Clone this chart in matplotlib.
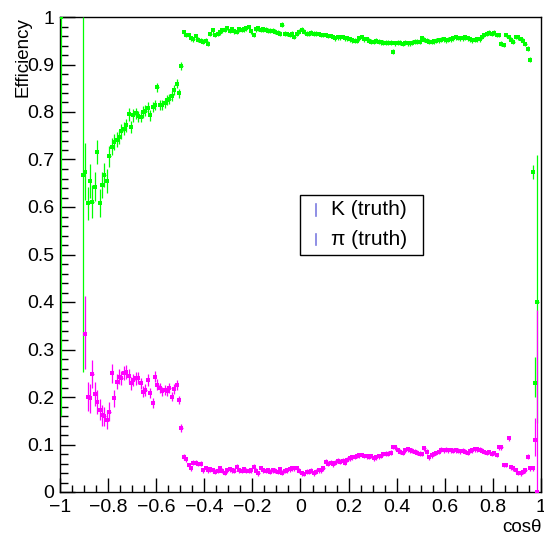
import numpy as np
import matplotlib
matplotlib.use("Agg")
import matplotlib.pyplot as plt
from matplotlib.patches import Rectangle

plt.rcParams['font.family'] = ['Liberation Sans', 'DejaVu Sans']

bin_half = 0.005

# K efficiency, rising part: bin centres from -0.895 in steps of 0.01
k_rise_start = -0.895
k_rise = [0.674, 0.608, 0.655, 0.611, 0.643, 0.716, 0.608, 0.646, 0.667, 0.655,
          0.707, 0.727, 0.737, 0.742, 0.748, 0.759, 0.765, 0.772, 0.795, 0.768,
          0.793, 0.797, 0.791, 0.790, 0.800, 0.803, 0.809, 0.793, 0.811, 0.815,
          0.852, 0.815, 0.815, 0.818, 0.825, 0.827, 0.834, 0.846, 0.860, 0.839,
          0.897]
k_rise_err = [0.060, 0.035, 0.035, 0.035, 0.030, 0.026, 0.030, 0.028, 0.025, 0.025,
              0.022, 0.018, 0.017, 0.016, 0.015, 0.015, 0.014, 0.014, 0.013, 0.013,
              0.013, 0.012, 0.012, 0.012, 0.012, 0.011, 0.011, 0.011, 0.011, 0.011,
              0.010, 0.010, 0.010, 0.010, 0.010, 0.010, 0.010, 0.010, 0.010, 0.010,
              0.008]
# K efficiency plateau: bin centres from -0.485 to 0.955
k_flat_start = -0.485
k_flat = [0.968, 0.962, 0.962, 0.955, 0.953, 0.960, 0.952, 0.950, 0.948, 0.950,
          0.944, 0.964, 0.972, 0.962, 0.965, 0.968, 0.972, 0.973, 0.977, 0.971,
          0.974, 0.970, 0.969, 0.974, 0.973, 0.974, 0.976, 0.979, 0.970, 0.962,
          0.974, 0.976, 0.973, 0.974, 0.973, 0.971, 0.971, 0.971, 0.969, 0.967,
          0.965, 0.984, 0.965, 0.964, 0.962, 0.965, 0.958, 0.965, 0.969, 0.973,
          0.969, 0.965, 0.965, 0.967, 0.965, 0.965, 0.964, 0.962, 0.962, 0.962,
          0.960, 0.960, 0.958, 0.955, 0.957, 0.957, 0.958, 0.955, 0.955, 0.953,
          0.951, 0.950, 0.950, 0.955, 0.957, 0.953, 0.953, 0.950, 0.948, 0.948,
          0.950, 0.948, 0.947, 0.946, 0.946, 0.946, 0.946, 0.927, 0.945, 0.946,
          0.946, 0.943, 0.946, 0.945, 0.945, 0.946, 0.948, 0.948, 0.948, 0.955,
          0.952, 0.950, 0.948, 0.948, 0.949, 0.950, 0.951, 0.952, 0.953, 0.951,
          0.952, 0.953, 0.955, 0.957, 0.956, 0.955, 0.955, 0.957, 0.955, 0.953,
          0.951, 0.952, 0.953, 0.953, 0.958, 0.962, 0.965, 0.967, 0.965, 0.967,
          0.962, 0.962, 0.944, 0.941, 0.962, 0.957, 0.952, 0.948, 0.958, 0.957,
          0.953, 0.950, 0.943, 0.933, 0.910]
k_flat_err = 0.005
# K bins with few entries (asymmetric errors)
k_edge_x = [-0.995, -0.905, 0.965, 0.975, 0.985]
k_edge_y = [1.0, 0.667, 0.674, 0.229, 0.400]
k_edge_lo = [0.841, 0.414, 0.015, 0.029, 0.255]
k_edge_hi = [0.0, 0.333, 0.015, 0.056, 0.309]

# pi efficiency, rising part: bin centres from -0.885
pi_rise_start = -0.885
pi_rise = [0.201, 0.197, 0.248, 0.206, 0.190, 0.173, 0.162, 0.160, 0.152, 0.169,
           0.250, 0.197, 0.232, 0.243, 0.240, 0.250, 0.253, 0.244, 0.229, 0.236,
           0.239, 0.240, 0.229, 0.211, 0.215, 0.236, 0.208, 0.187, 0.243, 0.226,
           0.219, 0.212, 0.215, 0.212, 0.219, 0.201, 0.217, 0.225, 0.194, 0.135,
           0.074]
pi_rise_err = [0.030, 0.030, 0.030, 0.025, 0.025, 0.022, 0.022, 0.020, 0.020, 0.020,
               0.020, 0.018, 0.016, 0.016, 0.015, 0.015, 0.015, 0.014, 0.014, 0.013,
               0.013, 0.013, 0.012, 0.012, 0.012, 0.012, 0.011, 0.011, 0.011, 0.011,
               0.010, 0.010, 0.010, 0.010, 0.010, 0.010, 0.010, 0.010, 0.009, 0.008,
               0.007]
# pi efficiency flat part: bin centres from -0.475 to 0.965
pi_flat_start = -0.475
pi_flat = [0.069, 0.057, 0.050, 0.062, 0.062, 0.059, 0.060, 0.046, 0.050, 0.046,
           0.048, 0.046, 0.043, 0.045, 0.050, 0.045, 0.041, 0.046, 0.048, 0.046,
           0.045, 0.053, 0.046, 0.045, 0.048, 0.045, 0.045, 0.046, 0.053, 0.045,
           0.039, 0.050, 0.046, 0.045, 0.046, 0.043, 0.046, 0.045, 0.043, 0.048,
           0.041, 0.045, 0.046, 0.048, 0.050, 0.050, 0.050, 0.045, 0.039, 0.038,
           0.043, 0.043, 0.045, 0.039, 0.043, 0.046, 0.046, 0.050, 0.064, 0.060,
           0.062, 0.058, 0.062, 0.066, 0.064, 0.066, 0.062, 0.068, 0.071, 0.073,
           0.074, 0.076,
           0.077, 0.078, 0.076, 0.075, 0.074, 0.076, 0.071, 0.073, 0.075, 0.076,
           0.080, 0.081, 0.081, 0.083, 0.095, 0.094, 0.088, 0.085, 0.083, 0.088,
           0.090, 0.088, 0.087, 0.085, 0.083, 0.081, 0.080, 0.092, 0.085, 0.073,
           0.077, 0.080, 0.082, 0.085, 0.089, 0.088, 0.089, 0.088, 0.088, 0.087,
           0.088, 0.087, 0.086, 0.087, 0.085, 0.083, 0.087, 0.088, 0.090, 0.090,
           0.089, 0.087, 0.084, 0.083, 0.084, 0.081, 0.082, 0.078, 0.094, 0.094,
           0.057, 0.057, 0.113, 0.052, 0.050, 0.046, 0.040, 0.039, 0.043, 0.046,
           0.074, 0.050, 0.050]
pi_flat_err = 0.005
pi_edge_x = [-0.895, 0.975, 0.985]
pi_edge_y = [0.333, 0.110, 0.0]
pi_edge_lo = [0.075, 0.035, 0.0]
pi_edge_hi = [0.080, 0.045, 0.383]

legend_labels = ["K (truth)", "\u03c0 (truth)"]


def series(start, values):
    return start + 0.01 * np.arange(len(values)), np.array(values)


def draw(ax, color, parts, edge):
    style = dict(fmt='s', ms=3, color=color, ecolor=color, elinewidth=0.9,
                 capsize=2, capthick=0.9, mew=0, zorder=3)
    for start, vals, err in parts:
        x, y = series(start, vals)
        ax.errorbar(x, y, yerr=err, xerr=bin_half, **style)
    ex, ey, elo, ehi = edge
    ax.errorbar(ex, ey, yerr=[elo, ehi], xerr=bin_half, **style)


fig = plt.figure(figsize=(5.44, 5.34), dpi=100)
ax = fig.add_axes([60 / 544, 42 / 534, 481 / 544, 475 / 534])

draw(ax, '#00ff00',
     [(k_rise_start, k_rise, k_rise_err), (k_flat_start, k_flat, k_flat_err)],
     (k_edge_x, k_edge_y, k_edge_lo, k_edge_hi))
draw(ax, '#ff00ff',
     [(pi_rise_start, pi_rise, pi_rise_err), (pi_flat_start, pi_flat, pi_flat_err)],
     (pi_edge_x, pi_edge_y, pi_edge_lo, pi_edge_hi))

ax.set_xlim(-1, 1)
ax.set_ylim(0, 1)
ax.set_xticks(np.arange(-1, 1.01, 0.2))
ax.set_xticks(np.arange(-1, 1.01, 0.05), minor=True)
ax.set_yticks(np.arange(0, 1.01, 0.1))
ax.set_yticks(np.arange(0, 1.01, 0.02), minor=True)
ax.set_xticklabels(['\u22121', '\u22120.8', '\u22120.6', '\u22120.4', '\u22120.2', '0',
                    '0.2', '0.4', '0.6', '0.8', '1'])
ax.set_yticklabels(['0', '0.1', '0.2', '0.3', '0.4', '0.5', '0.6', '0.7', '0.8', '0.9', '1'])
ax.tick_params(which='both', direction='in', top=False, right=False, width=1,
               labelsize=14)
ax.tick_params(axis='y', which='major', length=11, pad=4)
ax.tick_params(axis='y', which='minor', length=6)
ax.tick_params(axis='x', which='major', length=10, pad=5)
ax.tick_params(axis='x', which='minor', length=5)
for sp in ax.spines.values():
    sp.set_linewidth(1)

# legend box
ax.add_patch(Rectangle((0.499, 0.499), 0.256, 0.126, transform=ax.transAxes,
                       facecolor='white', edgecolor='black', lw=1, zorder=5))
for i, lab in enumerate(legend_labels):
    yc = 0.594 - i * 0.063
    ax.plot([0.532, 0.532], [yc - 0.012, yc + 0.012], transform=ax.transAxes,
            color='#7b7be0', lw=1.2, zorder=6)
    ax.text(0.563, yc, lab, transform=ax.transAxes, fontsize=15,
            va='center', ha='left', zorder=6)

fig.text(23 / 544, 1 - 17 / 534, 'Efficiency', rotation=90, fontsize=13.5,
         ha='center', va='top')
fig.text(542 / 544, 1 - 527 / 534, 'cos\u03b8', fontsize=13.5, ha='right', va='center')

fig.savefig('out.png', dpi=100)
